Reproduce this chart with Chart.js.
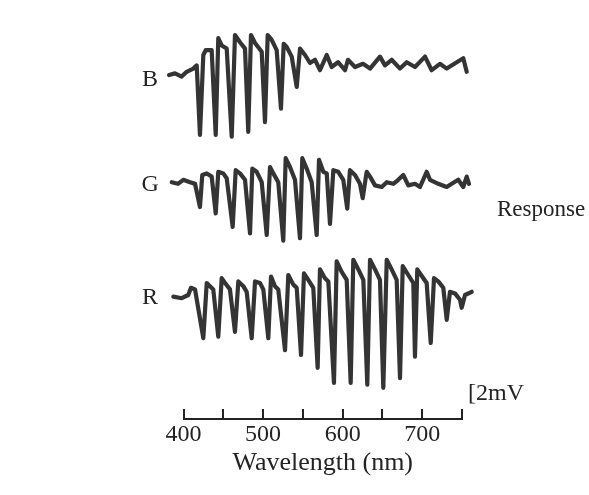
<!DOCTYPE html>
<html>
<head>
<meta charset="utf-8">
<script src="https://cdn.jsdelivr.net/npm/chart.js@4/dist/chart.umd.min.js"></script>
<style>
html,body{margin:0;padding:0;background:#ffffff;}
#wrap{width:589px;height:495px;}
</style>
</head>
<body>
<div id="wrap"><canvas id="c" width="589" height="495"></canvas></div>
<script>
// ---- axis ----
const X_MIN = 400, X_MAX = 750, X_STEP = 50;
const Y_MIN = 0, Y_MAX = 50;               // mV, shared vertical axis
const tickLabels = ['400', '500', '600', '700'];

// ---- trace names and the baseline (mV) each trace sits on ----
const traceNames = ['B', 'G', 'R'];
const traceOffsets = [43.6, 29.6, 15.4];
const nameLevels = [42.4, 29.3, 15.1];     // where each name label sits (mV)

// ---- B trace: wavelength (nm) and response (mV re. baseline) ----
const blueNm = [381.8,389.3,397.7,404.0,412.3,416.6,420.7,424.9,427.9,435.4,440.5,443.7,448.0,454.3,460.6,464.7,471.0,477.3,481.4,484.8,489.9,498.3,502.4,505.8,510.8,517.1,522.5,525.9,529.7,536.0,542.3,546.4,552.7,559.0,565.3,571.5,580.0,586.2,594.2,603.0,606.7,615.5,625.6,634.4,646.9,653.2,661.6,672.1,680.5,690.9,703.5,711.9,722.3,730.8,743.4,751.6,755.9];
const blueMv = [-0.6,-0.4,-0.8,-0.2,0.2,0.6,-8.1,1.9,2.5,2.5,-8.1,4.0,3.1,2.7,-8.3,4.4,3.5,2.7,-7.7,4.4,3.4,2.3,-6.5,4.4,3.8,2.5,-4.8,3.3,2.9,1.7,-2.1,2.7,1.9,0.9,1.3,0,1.9,0.4,1.0,0,1.3,0.4,0.8,0.2,1.7,0.6,1.3,0.2,1.0,0.4,1.7,0,0.8,0.2,1.0,1.5,-0.2];

// ---- G trace ----
const greenNm = [385.2,393.1,399.7,408.2,414.5,420.7,423.6,429.2,435.4,440.5,443.7,450.0,454.3,461.8,465.6,471.0,477.3,483.6,486.5,492.0,498.3,504.6,508.7,512.9,519.1,525.4,528.4,533.8,540.1,546.4,549.3,554.8,561.1,567.4,570.3,575.7,580.0,584.1,588.3,594.5,600.8,605.8,609.2,615.5,621.8,625.2,630.2,634.4,640.7,649.1,655.4,663.7,669.9,676.2,682.5,690.9,697.2,705.6,709.8,720.2,730.8,737.1,745.3,751.6,755.9,758.8];
const greenMv = [0.0,-0.2,0.3,0.0,-0.2,-3.1,0.9,1.1,0.7,-3.9,1.3,1.1,0.5,-5.6,1.5,1.1,0.3,-6.4,1.7,1.3,0.0,-6.6,1.9,1.1,0.0,-7.3,3.0,1.9,0.3,-7.0,3.0,1.7,0.0,-6.6,2.8,1.3,1.1,-5.2,1.5,1.3,0.3,-3.3,1.5,0.9,-0.2,-2.0,1.3,0.7,-0.4,-0.6,0.0,-0.2,0.3,0.9,-0.4,-0.2,-0.6,1.3,0.3,-0.2,-0.6,-0.2,0.3,-0.6,0.7,-0.2];

// ---- R trace ----
const redNm = [387.2,397.7,406.0,409.4,414.5,424.9,429.2,433.3,437.4,443.7,448.0,452.2,458.4,464.7,468.9,475.2,479.4,485.7,489.9,496.1,500.3,506.6,510.0,515.0,519.1,527.6,531.7,538.0,542.3,547.7,551.4,556.8,563.1,568.6,571.5,577.8,582.0,589.1,592.5,598.8,605.1,610.1,613.4,619.7,626.0,631.0,634.4,640.7,646.9,651.1,655.4,661.6,667.9,672.1,675.5,682.5,688.8,690.9,693.8,701.4,705.6,710.7,714.8,720.2,726.5,730.8,734.9,741.2,747.5,749.6,753.8,762.2];
const redMv = [-0.1,-0.3,0.1,1.0,0.8,-5.3,1.6,1.2,0.8,-5.1,2.2,1.6,0.8,-4.5,1.8,1.2,0.5,-5.3,1.8,1.6,0.8,-5.3,2.4,1.2,0.8,-6.8,2.6,1.4,1.0,-7.4,2.8,2.0,1.0,-9.0,3.3,2.2,1.8,-10.9,4.3,3.0,2.0,-10.9,4.5,3.3,2.0,-11.1,4.5,3.3,2.0,-11.5,4.5,3.3,2.0,-10.3,3.7,2.6,1.6,-7.6,3.3,2.2,1.6,-5.9,2.2,1.8,1.0,-3.0,0.5,0.3,-0.5,-1.5,0.1,0.5];

// ---- text annotations (placed in data units) ----
const LABEL_NM = 358;
const responseText = 'Response', responseAt = [794, 26.1];
const scaleText = '[2mV', scaleAt = [757.5, 3.1];

const INK = '#232323';
const TRACE = '#343434';
const FONT = '"Liberation Serif", "Times New Roman", serif';

const series = [[blueNm, blueMv], [greenNm, greenMv], [redNm, redMv]];
const datasets = series.map(([xs, ys], i) => ({
  label: traceNames[i],
  data: xs.map((v, k) => ({x: v, y: ys[k] + traceOffsets[i]})),
  borderColor: TRACE,
  borderWidth: 4.2,
  borderJoinStyle: 'round',
  borderCapStyle: 'round',
  pointRadius: 0,
  tension: 0,
  fill: false,
  clip: false
}));

const annotations = {
  id: 'annotations',
  afterDraw(chart) {
    const {ctx, scales: {x, y}} = chart;
    ctx.save();
    ctx.fillStyle = INK;
    ctx.textBaseline = 'middle';
    ctx.textAlign = 'center';
    ctx.font = '24px ' + FONT;
    traceNames.forEach((n, i) => {
      ctx.fillText(n, x.getPixelForValue(LABEL_NM), y.getPixelForValue(nameLevels[i]));
    });
    ctx.textAlign = 'left';
    ctx.font = '23px ' + FONT;
    ctx.fillText(responseText, x.getPixelForValue(responseAt[0]), y.getPixelForValue(responseAt[1]));
    ctx.font = '24px ' + FONT;
    ctx.fillText(scaleText, x.getPixelForValue(scaleAt[0]), y.getPixelForValue(scaleAt[1]));
    ctx.restore();
  }
};

new Chart(document.getElementById('c'), {
  type: 'line',
  data: {datasets},
  plugins: [annotations],
  options: {
    responsive: false,
    animation: false,
    devicePixelRatio: 1,
    layout: {padding: {left: 183.5, right: 127, top: 19, bottom: 0}},
    plugins: {legend: {display: false}, tooltip: {enabled: false}},
    scales: {
      x: {
        type: 'linear',
        afterDataLimits(s) { s.min = X_MIN; s.max = X_MAX; },
        afterFit(s) { s.height = 76; },
        border: {display: true, color: INK, width: 2},
        grid: {display: true, drawOnChartArea: false, drawTicks: true, tickLength: -10, color: INK, lineWidth: 2},
        ticks: {
          stepSize: X_STEP, color: INK, padding: 11, maxRotation: 0, autoSkip: false,
          font: {family: FONT, size: 24},
          callback: v => tickLabels.includes(String(v)) ? String(v) : ''
        },
        title: {display: true, text: 'Wavelength (nm)', color: INK, font: {family: FONT, size: 26}, padding: {top: 0, bottom: 16}}
      },
      y: {type: 'linear', min: Y_MIN, max: Y_MAX, display: false}
    }
  }
});
</script>
</body>
</html>
